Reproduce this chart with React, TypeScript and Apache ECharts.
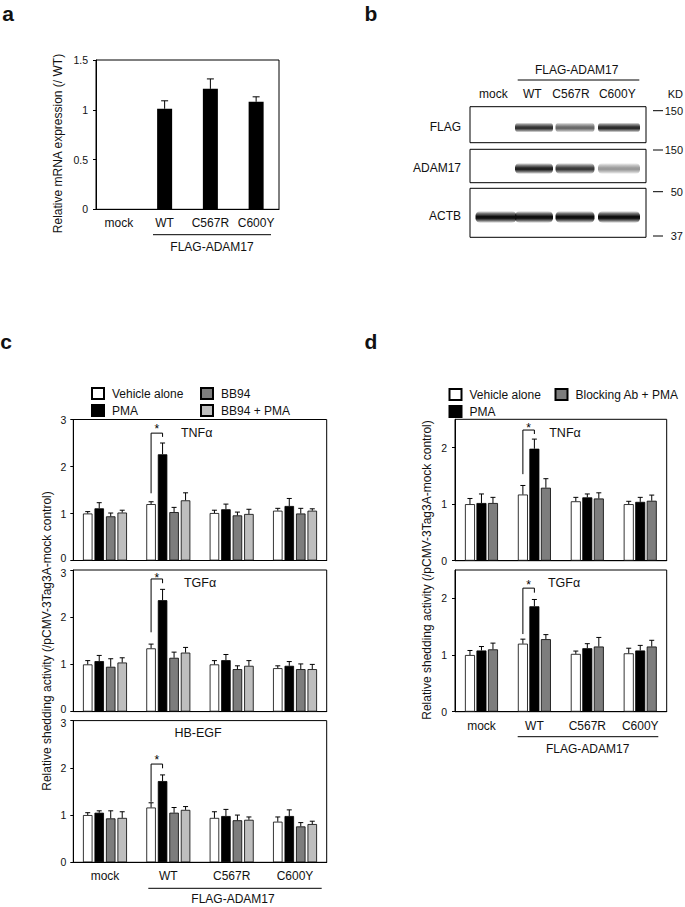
import React, { useEffect, useRef } from "react";
import * as echarts from "echarts";

const FONT = '"Liberation Sans", Arial, Helvetica, sans-serif';
const INK = "#111";

// ---------- shared categories ----------
const categories = ["mock", "WT", "C567R", "C600Y"];
const groupLabel = "FLAG-ADAM17";

// ---------- panel a: relative mRNA expression ----------
const mrnaMean = [0, 1.01, 1.21, 1.08];
const mrnaSd = [0, 0.08, 0.1, 0.05];

// ---------- panel b: western blot band intensities (0..1) ----------
const blotRows = ["FLAG", "ADAM17", "ACTB"];
const flagBand = [0, 0.85, 0.62, 0.88];
const adamBand = [0, 0.92, 0.82, 0.42];
const actbBand = [1, 1, 1, 1];
const markerLabels = ["150", "150", "50", "37"];

// ---------- panel c: shedding, BB94 ----------
const cSeriesNames = ["Vehicle alone", "PMA", "BB94", "BB94 + PMA"];
const cPanels = ["TNFα", "TGFα", "HB-EGF"];

const cTnfVehicle = [1.0, 1.2, 1.01, 1.06];
const cTnfVehicleSd = [0.04, 0.05, 0.06, 0.05];
const cTnfPma = [1.11, 2.26, 1.09, 1.16];
const cTnfPmaSd = [0.12, 0.24, 0.11, 0.16];
const cTnfBb94 = [0.94, 1.03, 0.96, 1.0];
const cTnfBb94Sd = [0.07, 0.1, 0.07, 0.11];
const cTnfBbPma = [1.02, 1.28, 0.99, 1.06];
const cTnfBbPmaSd = [0.05, 0.16, 0.1, 0.04];

const cTgfVehicle = [1.0, 1.34, 1.0, 0.92];
const cTgfVehicleSd = [0.08, 0.09, 0.08, 0.05];
const cTgfPma = [1.07, 2.36, 1.09, 0.97];
const cTgfPmaSd = [0.12, 0.23, 0.12, 0.09];
const cTgfBb94 = [0.95, 1.14, 0.9, 0.9];
const cTgfBb94Sd = [0.17, 0.12, 0.07, 0.11];
const cTgfBbPma = [1.04, 1.25, 0.97, 0.9];
const cTgfBbPmaSd = [0.1, 0.11, 0.11, 0.1];

const cHbVehicle = [1.0, 1.16, 0.94, 0.86];
const cHbVehicleSd = [0.05, 0.1, 0.13, 0.1];
const cHbPma = [1.05, 1.72, 0.98, 0.98];
const cHbPmaSd = [0.04, 0.13, 0.14, 0.13];
const cHbBb94 = [0.93, 1.05, 0.89, 0.76];
const cHbBb94Sd = [0.16, 0.11, 0.11, 0.08];
const cHbBbPma = [0.94, 1.11, 0.9, 0.81];
const cHbBbPmaSd = [0.13, 0.07, 0.06, 0.06];

// significance brackets: [left foot, top, right foot, asterisk]
const cTnfBracket = [1.43, 2.71, 2.63, 2.8];
const cTgfBracket = [1.68, 2.81, 2.72, 2.84];
const cHbBracket = [1.28, 2.08, 1.99, 2.17];

// ---------- panel d: shedding, blocking antibody ----------
const dSeriesNames = ["Vehicle alone", "PMA", "Blocking Ab + PMA"];
const dPanels = ["TNFα", "TGFα"];

const dTnfVehicle = [1.0, 1.17, 1.05, 1.0];
const dTnfVehicleSd = [0.1, 0.16, 0.07, 0.05];
const dTnfPma = [1.02, 1.98, 1.12, 1.04];
const dTnfPmaSd = [0.16, 0.17, 0.06, 0.08];
const dTnfBlock = [1.02, 1.29, 1.1, 1.06];
const dTnfBlockSd = [0.1, 0.16, 0.1, 0.1];

const dTgfVehicle = [1.0, 1.2, 1.02, 1.03];
const dTgfVehicleSd = [0.08, 0.08, 0.05, 0.09];
const dTgfPma = [1.08, 1.86, 1.12, 1.08];
const dTgfPmaSd = [0.07, 0.12, 0.08, 0.09];
const dTgfBlock = [1.1, 1.28, 1.15, 1.15];
const dTgfBlockSd = [0.11, 0.08, 0.16, 0.11];

const dTnfBracket = [1.53, 2.31, 2.24, 2.35];
const dTgfBracket = [1.37, 2.18, 2.1, 2.23];

// ---------- styles ----------
const barFill: Record<string, string> = {
  "Vehicle alone": "#ffffff",
  PMA: "#000000",
  BB94: "#7d7d7d",
  "BB94 + PMA": "#bebebe",
  "Blocking Ab + PMA": "#7d7d7d",
};

function barSeries(name: string, grid: number, values: number[], barWidth: number, barGap: string) {
  return {
    type: "bar",
    name,
    xAxisIndex: grid,
    yAxisIndex: grid,
    data: values,
    barWidth,
    barGap,
    silent: true,
    itemStyle: { color: barFill[name], borderColor: "#000", borderWidth: 0.8 },
  };
}

function errorSeries(grid: number, means: number[], sds: number[], offset: number, cap: number) {
  return {
    type: "custom",
    name: "err",
    xAxisIndex: grid,
    yAxisIndex: grid,
    z: 5,
    silent: true,
    data: means.map((m, i) => [i, m + sds[i], m]),
    encode: { x: 0, y: 1 },
    renderItem: (_p: any, api: any) => {
      const i = api.value(0);
      const top = api.value(1);
      const m = api.value(2);
      if (top === m) return null;
      const pb = api.coord([i, m]);
      const pt = api.coord([i, top]);
      const x = pb[0] + offset;
      return {
        type: "group",
        children: [
          { type: "line", shape: { x1: x, y1: pb[1], x2: x, y2: pt[1] }, style: { stroke: "#000", lineWidth: 1 } },
          { type: "line", shape: { x1: x - cap, y1: pt[1], x2: x + cap, y2: pt[1] }, style: { stroke: "#000", lineWidth: 1 } },
        ],
      };
    },
  };
}

function bracketSeries(grid: number, br: number[], offL: number, offR: number) {
  return {
    type: "custom",
    name: "sig",
    xAxisIndex: grid,
    yAxisIndex: grid,
    z: 6,
    silent: true,
    data: [[1, br[0], br[1], br[2], br[3]]],
    encode: { x: 0, y: 2 },
    renderItem: (_p: any, api: any) => {
      const c = api.value(0);
      const pL = api.coord([c, api.value(1)]);
      const pT = api.coord([c, api.value(2)]);
      const pR = api.coord([c, api.value(3)]);
      const pS = api.coord([c, api.value(4)]);
      const xL = pT[0] + offL;
      const xR = pT[0] + offR;
      return {
        type: "group",
        children: [
          {
            type: "polyline",
            shape: { points: [[xL, pL[1]], [xL, pT[1]], [xR, pT[1]], [xR, pR[1]]] },
            style: { stroke: "#000", fill: "none", lineWidth: 1 },
          },
          {
            type: "text",
            x: (xL + xR) / 2,
            y: pS[1],
            style: { text: "*", fill: "#000", font: `12px ${FONT}`, align: "center", verticalAlign: "middle" },
          },
        ],
      };
    },
  };
}

function xAxis(grid: number, showLabels: boolean) {
  return {
    type: "category",
    gridIndex: grid,
    data: categories,
    axisTick: { show: false },
    axisLine: { lineStyle: { color: "#000", width: 1 } },
    axisLabel: { show: showLabels, interval: 0, fontSize: 12, color: INK, margin: 8, fontFamily: FONT },
  };
}

// liftMin / dropMax: nudge the min / max label a little so that labels of stacked plots do not collide
function yAxis(grid: number, max: number, interval: number, fontSize: number, margin: number, showMax = true, liftMin = false, dropMax = false) {
  return {
    type: "value",
    gridIndex: grid,
    min: 0,
    max,
    interval,
    splitLine: { show: false },
    axisLine: { show: true, lineStyle: { color: "#000", width: 1 } },
    axisTick: { show: true, length: 3, lineStyle: { color: "#000" } },
    axisLabel: {
      fontSize,
      lineHeight: 9,
      color: INK,
      margin,
      fontFamily: FONT,
      showMaxLabel: showMax,
      formatter: (v: number) => {
        if (liftMin && v === 0) return `{lo|${v}}`;
        if (dropMax && v === max) return `{hi|${v}}`;
        return String(v);
      },
      rich: {
        lo: { fontSize, lineHeight: 9, color: INK, fontFamily: FONT, padding: [0, 0, 5, 0] },
        hi: { fontSize, lineHeight: 9, color: INK, fontFamily: FONT, padding: [5, 0, 0, 0] },
      },
    },
  };
}

function txt(text: string, x: number, y: number, size: number, extra: any = {}) {
  return {
    type: "text",
    x,
    y,
    silent: true,
    style: {
      text,
      fill: INK,
      font: `${extra.bold ? "bold " : ""}${size}px ${FONT}`,
      align: extra.align || "center",
      verticalAlign: "middle",
    },
    rotation: extra.rotation || 0,
  };
}

function hline(x1: number, x2: number, y: number) {
  return { type: "line", silent: true, shape: { x1, y1: y, x2, y2: y }, style: { stroke: "#000", lineWidth: 1 } };
}

function band(cx: number, cy: number, w: number, h: number, k: number) {
  const a = (f: number) => `rgba(15,15,15,${Math.min(1, k * f).toFixed(3)})`;
  return {
    type: "rect",
    silent: true,
    shape: { x: cx - w / 2, y: cy - h / 2, width: w, height: h, r: h / 2.5 },
    style: {
      fill: new echarts.graphic.LinearGradient(0, 0, 0, 1, [
        { offset: 0, color: a(0) },
        { offset: 0.2, color: a(0.55) },
        { offset: 0.45, color: a(1) },
        { offset: 0.6, color: a(1) },
        { offset: 0.82, color: a(0.55) },
        { offset: 1, color: a(0) },
      ]),
    },
  };
}

export default function App() {
  const ref = useRef<HTMLDivElement>(null);

  useEffect(() => {
    document.body.style.margin = "0";
    if (!ref.current) return;
    const chart = echarts.init(ref.current, undefined, { renderer: "svg" });

    // layout constants
    const cBarW = 9.5;
    const cGap = "21%";
    const cPitch = cBarW * 1.21;
    const cOff = [-1.5, -0.5, 0.5, 1.5].map((k) => k * cPitch);
    const dBarW = 10;
    const dGap = "15%";
    const dPitch = dBarW * 1.15;
    const dOff = [-1, 0, 1].map((k) => k * dPitch);
    const cap = 2.5;

    const cData = [
      [[cTnfVehicle, cTnfVehicleSd], [cTnfPma, cTnfPmaSd], [cTnfBb94, cTnfBb94Sd], [cTnfBbPma, cTnfBbPmaSd]],
      [[cTgfVehicle, cTgfVehicleSd], [cTgfPma, cTgfPmaSd], [cTgfBb94, cTgfBb94Sd], [cTgfBbPma, cTgfBbPmaSd]],
      [[cHbVehicle, cHbVehicleSd], [cHbPma, cHbPmaSd], [cHbBb94, cHbBb94Sd], [cHbBbPma, cHbBbPmaSd]],
    ];
    const cBrackets = [cTnfBracket, cTgfBracket, cHbBracket];
    const dData = [
      [[dTnfVehicle, dTnfVehicleSd], [dTnfPma, dTnfPmaSd], [dTnfBlock, dTnfBlockSd]],
      [[dTgfVehicle, dTgfVehicleSd], [dTgfPma, dTgfPmaSd], [dTgfBlock, dTgfBlockSd]],
    ];
    const dBrackets = [dTnfBracket, dTgfBracket];

    const series: any[] = [];
    // a
    series.push({
      type: "bar",
      name: "mRNA",
      xAxisIndex: 0,
      yAxisIndex: 0,
      data: mrnaMean,
      barWidth: 15,
      silent: true,
      itemStyle: { color: "#000" },
    });
    series.push(errorSeries(0, mrnaMean, mrnaSd, 0, 3.5));
    // c
    cData.forEach((panel, pi) => {
      const g = 1 + pi;
      panel.forEach(([m], si) => series.push(barSeries(cSeriesNames[si], g, m, cBarW, cGap)));
      panel.forEach(([m, s], si) => series.push(errorSeries(g, m, s, cOff[si], cap)));
      series.push(bracketSeries(g, cBrackets[pi], cOff[0], cOff[1]));
    });
    // d
    dData.forEach((panel, pi) => {
      const g = 4 + pi;
      panel.forEach(([m], si) => series.push(barSeries(dSeriesNames[si], g, m, dBarW, dGap)));
      panel.forEach(([m, s], si) => series.push(errorSeries(g, m, s, dOff[si], cap)));
      series.push(bracketSeries(g, dBrackets[pi], dOff[0], dOff[1]));
    });

    const gridBase = { show: true, borderColor: "#000", borderWidth: 1, backgroundColor: "transparent" };
    const grids = [
      { ...gridBase, left: 96, top: 60, width: 183, height: 149.3 },
      { ...gridBase, left: 73.3, top: 419.5, width: 253.4, height: 141 },
      { ...gridBase, left: 73.3, top: 570, width: 253.4, height: 141.6 },
      { ...gridBase, left: 73.3, top: 720.6, width: 253.4, height: 141.7 },
      { ...gridBase, left: 455, top: 419.3, width: 211.7, height: 141.4 },
      { ...gridBase, left: 455, top: 570, width: 211.7, height: 141.7 },
    ];

    const legendText = { fontSize: 12, color: INK, fontFamily: FONT, padding: [0, 0, 0, 3] };
    const legendBase = {
      orient: "vertical",
      icon: "rect",
      itemWidth: 12,
      itemHeight: 11,
      itemGap: 4,
      selectedMode: false,
      textStyle: legendText,
    };

    // western blot graphic
    const laneX = [496, 534, 575, 619];
    const laneW = [41, 38, 39, 42];
    const boxes = [
      { y: 106.7, h: 36, cy: 127.5, bh: 10, vals: flagBand },
      { y: 149.3, h: 33.4, cy: 168.5, bh: 11, vals: adamBand },
      { y: 188.3, h: 49, cy: 217, bh: 12, vals: actbBand },
    ];
    const blot: any[] = [];
    boxes.forEach((b, bi) => {
      blot.push({
        type: "rect",
        silent: true,
        shape: { x: 470, y: b.y, width: 176, height: b.h },
        style: { fill: "#fff", stroke: "#000", lineWidth: 1 },
      });
      b.vals.forEach((k, li) => {
        if (k > 0) blot.push(band(laneX[li], b.cy, laneW[li], b.bh, k));
      });
      blot.push(txt(blotRows[bi], 461, b.cy - 1, 12, { align: "right" }));
    });
    const markerY = [110.7, 150, 191.7, 236];
    markerY.forEach((y, i) => {
      blot.push(hline(653, 663, y));
      blot.push(txt(markerLabels[i], 683, y, 11, { align: "right" }));
    });
    blot.push(txt("KD", 683, 94, 11, { align: "right" }));
    const blotLaneLabelX = [493.3, 532.3, 571, 617.3];
    categories.forEach((c, i) => blot.push(txt(c, blotLaneLabelX[i], 94, 12)));
    blot.push(hline(517.7, 639.3, 80));
    blot.push(txt(groupLabel, 576.7, 70, 12));

    const graphic: any[] = [
      txt("a", 8, 13, 21, { bold: true }),
      txt("b", 371, 13, 21, { bold: true }),
      txt("c", 6, 341, 21, { bold: true }),
      txt("d", 371, 341, 21, { bold: true }),
      // panel a
      txt("Relative mRNA expression (/ WT)", 58.3, 143.5, 12, { rotation: Math.PI / 2 }),
      hline(153, 271, 234.7),
      txt(groupLabel, 212, 247, 12),
      // panel c
      txt("Relative shedding activity (/pCMV-3Tag3A-mock control)", 46.5, 641, 12, { rotation: Math.PI / 2 }),
      txt(cPanels[0], 196.7, 433.3, 12.5),
      txt(cPanels[1], 200, 583.3, 12.5),
      txt(cPanels[2], 198, 733.3, 12.5),
      hline(148.3, 321.7, 888.3),
      txt(groupLabel, 233, 899.3, 12),
      // panel d
      txt("Relative shedding activity (/pCMV-3Tag3A-mock control)", 426.7, 570, 12, { rotation: Math.PI / 2 }),
      txt(dPanels[0], 565, 433.3, 12.5),
      txt(dPanels[1], 564, 583.3, 12.5),
      hline(517.7, 658.3, 736.7),
      txt(groupLabel, 587.7, 749.3, 12),
      ...blot,
    ];

    chart.setOption({
      animation: false,
      textStyle: { fontFamily: FONT },
      grid: grids,
      xAxis: [xAxis(0, true), xAxis(1, false), xAxis(2, false), xAxis(3, true), xAxis(4, false), xAxis(5, true)],
      yAxis: [
        yAxis(0, 1.5, 0.5, 10.5, 8),
        yAxis(1, 3, 1, 10.5, 7, true, true, false),
        yAxis(2, 3, 1, 10.5, 7, true, true, true),
        yAxis(3, 3, 1, 10.5, 7, true, false, true),
        yAxis(4, 2.5, 1, 10.5, 8, false),
        yAxis(5, 2.5, 1, 10.5, 8, false),
      ],
      legend: [
        { ...legendBase, data: ["Vehicle alone", "PMA"], left: 86, top: 382 },
        { ...legendBase, data: ["BB94", "BB94 + PMA"], left: 195, top: 382 },
        { ...legendBase, data: ["Vehicle alone", "PMA"], left: 443.5, top: 383 },
        { ...legendBase, data: ["Blocking Ab + PMA"], left: 549.5, top: 383 },
      ],
      graphic,
      series,
    });

    return () => chart.dispose();
  }, []);

  return <div ref={ref} style={{ width: 685, height: 907, background: "#fff" }} />;
}
